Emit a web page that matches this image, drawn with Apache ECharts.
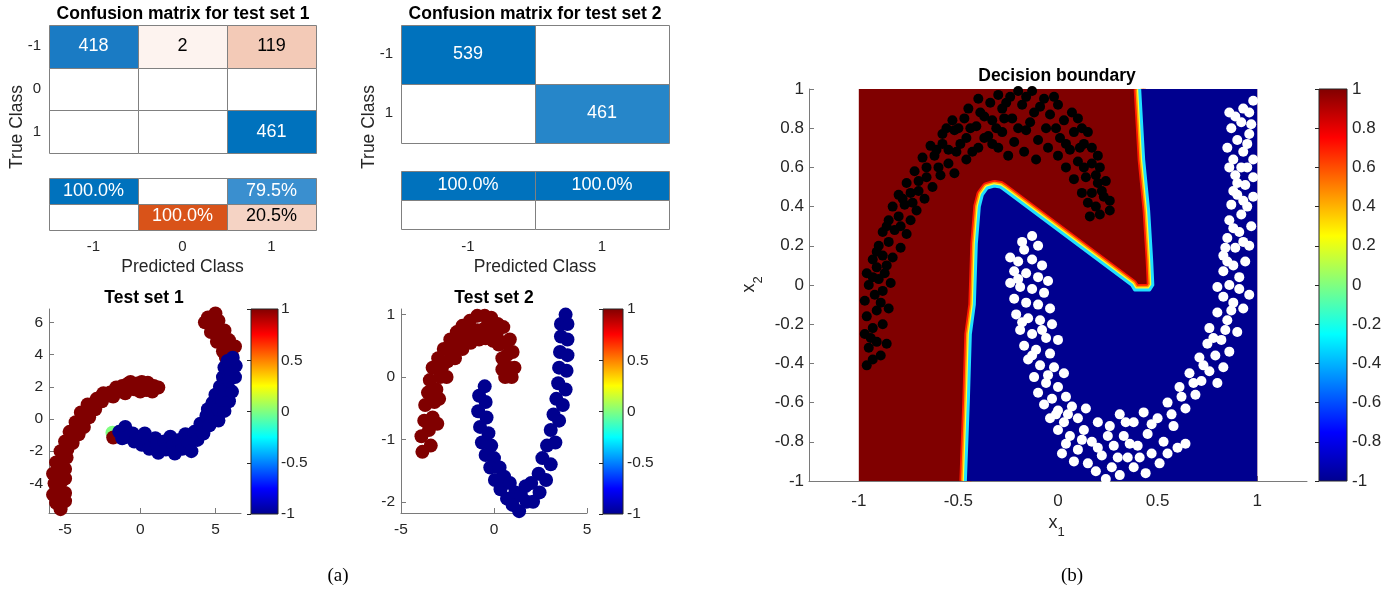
<!DOCTYPE html>
<html><head><meta charset="utf-8">
<script src="https://cdn.jsdelivr.net/npm/echarts@6/dist/echarts.min.js"></script>
<style>html,body{margin:0;padding:0;background:#fff}#c{width:1389px;height:590px}</style>
</head><body><div id="c"></div>
<script>
// ---------------- DATA ----------------
const cm1Classes = ['-1', '0', '1'];
const cm1Counts = [[418, 2, 119], [null, null, null], [null, null, 461]];
const cm1Precision = [100.0, null, 79.5];
const cm1FalseDisc = [null, 100.0, 20.5];

const cm2Classes = ['-1', '1'];
const cm2Counts = [[539, null], [null, 461]];
const cm2Precision = [100.0, 100.0];
const cm2FalseDisc = [null, null];

const test1Red = [[-5.3,-5.6],[-5.0,-5.1],[-5.6,-5.2],[-5.8,-4.7],[-5.3,-4.6],[-5.0,-4.6],[-5.7,-4.0],[-5.25,-3.9],[-5.0,-3.7],[-5.8,-3.4],[-5.4,-3.2],[-5.0,-3.1],[-5.6,-2.7],[-5.15,-2.5],[-4.9,-2.4],[-5.3,-2.0],[-4.85,-1.9],[-4.5,-1.5],[-5.0,-1.4],[-4.55,-1.2],[-4.1,-0.95],[-4.7,-0.8],[-4.2,-0.6],[-3.75,-0.5],[-4.3,-0.2],[-3.85,0.0],[-3.4,0.1],[-3.95,0.4],[-3.5,0.55],[-3.0,0.6],[-3.5,0.9],[-3.0,1.05],[-2.55,1.1],[-2.9,1.25],[-2.5,1.5],[-2.05,1.45],[-2.45,1.6],[-2.0,1.65],[-1.5,1.75],[-1.6,1.95],[-1.2,2.05],[-0.9,2.0],[-0.8,2.2],[-0.65,2.3],[-0.2,2.2],[-0.4,1.85],[0.1,2.3],[0.5,2.25],[0.4,1.8],[0.9,2.05],[1.2,1.95],[0.8,1.7],[0.0,1.7],[-1.0,1.6],[-1.8,1.4],[-1.8,-1.15],
  [4.3,6.0],[4.8,5.9],[5.2,6.1],[4.7,5.4],[5.2,5.3],[5.6,5.5],[5.1,4.8],[5.5,4.7],[5.9,4.9],[5.5,4.2],[5.95,4.3],[6.3,4.5],[5.7,3.8],[6.1,3.9],[4.5,6.3],[5.0,6.55],[4.9,6.2]];
const test1Mid = [[-1.85,-0.85,0.0]];
const test1Blue = [[-1.4,-0.8],[-1.0,-0.5],[-0.9,-1.1],[-0.5,-0.9],[-0.4,-1.4],[0.0,-1.1],[0.1,-1.6],[0.5,-1.3],[0.6,-1.85],[1.0,-1.2],[1.1,-1.65],[1.2,-2.1],[1.6,-1.4],[1.7,-1.9],[2.0,-1.1],[2.2,-1.6],[2.3,-2.15],[2.6,-1.3],[2.8,-1.85],[3.0,-0.95],[3.2,-1.45],[3.4,-2.0],[3.6,-0.8],[3.8,-1.3],[4.0,-0.3],[4.2,-0.9],[4.4,0.2],[4.6,-0.4],[4.5,0.6],[4.9,0.1],[5.2,-0.1],[4.8,1.0],[5.2,0.6],[5.6,0.5],[5.0,1.5],[5.45,1.2],[5.9,1.1],[5.3,2.0],[5.7,1.8],[6.1,1.7],[5.5,2.6],[5.9,2.4],[6.3,2.6],[5.6,3.2],[6.0,3.1],[6.35,3.3],[5.8,3.6],[6.15,3.8],[-1.2,-1.2],[0.3,-0.9]];

const test2Red = [[-3.85,-1.2],[-3.4,-1.1],[-3.9,-0.95],[-3.5,-0.85],[-3.75,-0.7],[-3.3,-0.65],[-3.7,-0.45],[-3.2,-0.4],[-3.55,-0.25],[-3.1,-0.2],[-3.45,-0.05],[-2.9,0.0],[-3.3,0.15],[-2.8,0.15],[-3.0,0.3],[-2.5,0.25],[-2.7,0.45],[-2.2,0.4],[-2.35,0.6],[-1.9,0.55],[-2.0,0.72],[-1.6,0.62],[-1.7,0.82],[-1.25,0.72],[-1.3,0.9],[-0.9,0.75],[-0.9,0.98],[-0.5,0.78],[-0.5,0.98],[-0.1,0.75],[-0.15,0.95],[0.2,0.85],[0.15,0.65],[0.5,0.8],[0.55,0.55],[0.85,0.6],[0.7,0.35],[1.0,0.4],[0.8,0.15],[1.1,0.15],[0.6,0.0],[0.95,0.0],
  [-3.05,-0.75],[-2.95,-0.35],[-2.55,0.0],[-2.1,0.3],[-1.7,0.45],[-1.25,0.55],[-0.8,0.6],[-0.45,0.62],[-0.05,0.58],[0.25,0.52],[0.45,0.3],[0.45,0.12]];
const test2Blue = [[-0.5,-0.15],[-0.8,-0.3],[-0.45,-0.4],[-0.85,-0.55],[-0.4,-0.65],[-0.75,-0.8],[-0.3,-0.9],[-0.65,-1.05],[-0.15,-1.1],[-0.45,-1.25],[0.0,-1.3],[-0.2,-1.45],[0.3,-1.45],[0.05,-1.65],[0.55,-1.6],[0.35,-1.8],[0.85,-1.7],[0.7,-1.95],[1.15,-1.85],[1.0,-2.05],[1.45,-1.9],[1.35,-2.15],[1.75,-2.0],[1.7,-1.75],[2.0,-1.7],[2.1,-2.0],[2.4,-1.55],[2.45,-1.85],[2.6,-1.3],[2.8,-1.65],[2.85,-1.1],[3.05,-1.4],[3.05,-0.85],[3.3,-1.05],[3.2,-0.6],[3.5,-0.7],[3.35,-0.35],[3.7,-0.45],[3.45,-0.1],[3.85,-0.2],[3.5,0.15],[3.9,0.1],[3.55,0.4],[3.95,0.35],[3.6,0.65],[3.95,0.6],[3.6,0.85],[3.95,0.85],[3.85,1.0]];

const decisionDomain = [-1, 1];
const decisionBoundary = [[-0.465,-1.0],[-0.45,-0.59],[-0.44,-0.25],[-0.42,-0.1],[-0.41,0.21],[-0.395,0.4],[-0.38,0.46],[-0.355,0.495],[-0.32,0.505],[-0.29,0.5],[-0.275,0.49],[0.37,0.0],[0.385,-0.025],[0.46,-0.025],[0.476,0.0],[0.47,0.13],[0.455,0.38],[0.43,0.64],[0.41,1.0]];
const decisionBlueCorners = [[1, 1], [1, -1]];

const class1Points = [[-0.96,-0.41],[-0.93,-0.38],[-0.89,-0.36],[-0.95,-0.32],[-0.91,-0.29],[-0.86,-0.3],[-0.97,-0.25],[-0.93,-0.22],[-0.88,-0.2],[-0.96,-0.16],[-0.91,-0.13],[-0.85,-0.12],[-0.97,-0.08],[-0.92,-0.05],[-0.88,-0.03],[-0.95,0.0],[-0.9,0.03],[-0.84,0.01],[-0.96,0.06],[-0.91,0.09],[-0.86,0.1],
[-0.93,0.13],[-0.88,0.15],[-0.83,0.14],[-0.9,0.2],[-0.85,0.22],[-0.79,0.19],[-0.88,0.27],[-0.82,0.28],[-0.76,0.26],[-0.85,0.33],[-0.8,0.35],[-0.74,0.33],[-0.83,0.4],[-0.77,0.41],[-0.71,0.38],
[-0.8,0.46],[-0.74,0.47],[-0.67,0.44],[-0.76,0.52],[-0.7,0.53],[-0.63,0.5],[-0.72,0.58],[-0.66,0.6],[-0.59,0.56],[-0.68,0.65],[-0.62,0.66],[-0.55,0.62],[-0.52,0.57],
[-0.64,0.71],[-0.58,0.72],[-0.51,0.68],[-0.46,0.64],[-0.58,0.77],[-0.52,0.79],[-0.46,0.75],[-0.4,0.7],[-0.53,0.84],[-0.47,0.85],[-0.41,0.81],[-0.35,0.76],[-0.3,0.7],[-0.45,0.9],[-0.39,0.88],[-0.33,0.84],[-0.28,0.78],[-0.4,0.95],[-0.34,0.93],[-0.28,0.9],
[-0.23,0.85],[-0.22,0.73],[-0.17,0.68],[-0.3,0.97],[-0.24,0.96],[-0.18,0.92],[-0.12,0.88],[-0.16,0.79],[-0.1,0.74],[-0.2,0.99],[-0.13,0.99],[-0.07,0.95],[-0.04,0.87],[-0.06,0.8],[-0.05,0.7],[-0.25,0.66],[-0.11,0.64],
[0.0,0.92],[0.03,0.84],[0.01,0.75],[0.0,0.66],[0.07,0.88],[0.08,0.78],[0.06,0.69],[0.04,0.6],[0.12,0.8],[0.13,0.72],[0.1,0.63],[0.08,0.54],[0.17,0.7],[0.17,0.62],[0.14,0.55],
[0.21,0.6],[0.2,0.52],[0.17,0.47],[0.12,0.47],[0.24,0.53],[0.23,0.45],[0.19,0.4],[0.26,0.43],[0.21,0.36],[0.16,0.35],[0.26,0.38],
[-0.94,-0.27],[-0.89,-0.09],[-0.93,0.04],[-0.87,0.06],[-0.91,0.17],[-0.86,0.3],[-0.79,0.3],[-0.78,0.44],[-0.73,0.42],[-0.7,0.48],[-0.66,0.55],[-0.6,0.6],[-0.61,0.69],[-0.55,0.69],[-0.49,0.72],[-0.43,0.68],[-0.5,0.8],[-0.44,0.8],[-0.37,0.86],[-0.31,0.8],[-0.26,0.93],[-0.2,0.8],[-0.14,0.83],[-0.09,0.91],[-0.02,0.96],[-0.01,0.8],[0.04,0.72],[0.1,0.85],[0.15,0.78],[0.11,0.7],[0.2,0.66],[0.19,0.56],[0.13,0.6],[0.22,0.48],[0.15,0.42],[-0.37,0.75],[-0.27,0.85],[-0.16,0.96],[-0.33,0.72],[-0.56,0.8]];

const class2Points = [[-0.13,0.25],[-0.1,0.2],[-0.17,0.18],[-0.24,0.14],[-0.2,0.12],[-0.13,0.13],[-0.08,0.1],[-0.22,0.07],[-0.16,0.06],[-0.1,0.04],[-0.05,0.02],[-0.24,0.01],[-0.19,-0.01],[-0.13,-0.02],[-0.07,-0.04],[-0.22,-0.07],[-0.16,-0.09],[-0.1,-0.1],[-0.04,-0.12],
[-0.21,-0.15],[-0.15,-0.17],[-0.09,-0.18],[-0.03,-0.2],[-0.19,-0.23],[-0.13,-0.25],[-0.06,-0.27],[0.0,-0.28],[-0.17,-0.31],[-0.11,-0.33],[-0.04,-0.35],[-0.15,-0.38],[-0.09,-0.41],[-0.02,-0.42],[0.03,-0.45],
[-0.12,-0.47],[-0.06,-0.5],[0.0,-0.52],[-0.1,-0.55],[-0.03,-0.58],[0.04,-0.57],[-0.07,-0.61],[0.0,-0.64],[0.07,-0.62],[-0.04,-0.68],[0.03,-0.7],[0.1,-0.68],[0.0,-0.74],
[0.06,-0.77],[0.13,-0.74],[0.04,-0.81],[0.1,-0.84],[0.17,-0.8],[0.2,-0.7],[0.14,-0.63],[0.08,-0.9],[0.15,-0.91],[0.22,-0.87],[0.19,-0.95],[0.24,-0.99],[0.27,-0.93],[0.28,-0.82],[0.26,-0.72],[0.31,-0.66],[0.33,-0.77],[0.35,-0.88],[0.31,-0.97],[0.38,-0.93],[0.4,-0.82],[0.38,-0.7],[0.43,-0.65],[0.45,-0.76],[0.47,-0.86],[0.44,-0.96],[0.51,-0.91],[0.53,-0.8],[0.5,-0.68],[0.55,-0.6],[0.58,-0.72],[0.6,-0.83],[0.64,-0.81],
[0.61,-0.52],[0.64,-0.63],[0.66,-0.45],[0.69,-0.56],[0.72,-0.49],[0.71,-0.37],[0.76,-0.44],[0.8,-0.5],[0.75,-0.3],[0.79,-0.36],[0.83,-0.42],[0.76,-0.22],[0.82,-0.28],[0.86,-0.34],[0.8,-0.14],[0.85,-0.18],[0.9,-0.24],[0.83,-0.06],[0.88,-0.09],[0.93,-0.12],[0.96,-0.05],
[0.8,-0.01],[0.86,0.0],[0.91,0.04],[0.83,0.07],[0.88,0.1],[0.94,0.12],[0.83,0.15],[0.89,0.19],[0.96,0.2],[0.85,0.24],[0.91,0.27],[0.97,0.3],[0.86,0.33],[0.92,0.36],[0.87,0.41],[0.93,0.43],[0.98,0.45],[0.88,0.48],[0.94,0.51],[0.98,0.55],[0.89,0.56],[0.95,0.6],[0.88,0.64],[0.93,0.68],[0.98,0.64],[0.85,0.7],[0.9,0.74],[0.96,0.77],[0.87,0.8],[0.92,0.83],[0.97,0.82],[0.86,0.88],[0.93,0.9],[0.98,0.94],
[-0.18,0.22],[-0.2,0.03],[-0.18,-0.19],[-0.08,-0.23],[-0.13,-0.36],[-0.05,-0.46],[-0.01,-0.66],[0.05,-0.66],[0.12,-0.79],[0.02,-0.86],[0.2,-0.83],[0.25,-0.77],[0.3,-0.88],[0.36,-0.81],[0.41,-0.88],[0.34,-0.7],[0.47,-0.71],[0.55,-0.86],[0.57,-0.66],[0.62,-0.57],[0.68,-0.5],[0.73,-0.41],[0.78,-0.27],[0.84,-0.23],[0.87,-0.13],[0.91,-0.02],[0.85,0.12],[0.93,0.22],[0.88,0.29],[0.95,0.4],[0.9,0.52],[0.92,0.6],[0.95,0.72],[0.89,0.86],[0.96,0.88],[0.84,0.19],[0.9,0.46],[0.86,0.6]];

const test1XTicks = [-5, 0, 5], test1YTicks = [-4, -2, 0, 2, 4, 6];
const test2XTicks = [-5, 0, 5], test2YTicks = [-2, -1, 0, 1];
const decisionXTicks = [-1, -0.5, 0, 0.5, 1];
const colorRange = [-1, 1];

// ---------------- STYLES ----------------
const FONT = '"Liberation Sans", Arial, Helvetica, sans-serif';
const TXT = '#262626';
const AX = '#7a7a7a';
const JET = ['#00008F','#0000FF','#0080FF','#00FFFF','#80FF80','#FFFF00','#FF8000','#FF0000','#800000'];
const cm1CountFill = [['#1a7bc4','#fdf3ef','#f3cab7'],['#ffffff','#ffffff','#ffffff'],['#ffffff','#ffffff','#0072bd']];
const cm1SumFill = [['#0072bd','#ffffff','#3a8fcf'],['#ffffff','#d95319','#f5d3c4']];
const cm2CountFill = [['#0072bd','#ffffff'],['#ffffff','#2686c9']];
const cm2SumFill = [['#0072bd','#0072bd'],['#ffffff','#ffffff']];

function textOn(fill) {
  const h = fill.replace('#', '');
  const r = parseInt(h.substr(0, 2), 16), g = parseInt(h.substr(2, 2), 16), b = parseInt(h.substr(4, 2), 16);
  return (0.299 * r + 0.587 * g + 0.114 * b) < 160 ? '#ffffff' : '#000000';
}

function cellSeries(axisIdx, rows, fills, fmt) {
  const data = [];
  rows.forEach((row, r) => row.forEach((v, c) => data.push([c, r])));
  return {
    type: 'custom', xAxisIndex: axisIdx, yAxisIndex: axisIdx, data: data, z: 2,
    renderItem: function (params, api) {
      const c = api.value(0), r = api.value(1);
      const p = api.coord([c, r]);
      const s = api.size([1, 1]);
      const v = rows[r][c];
      const fill = fills[r][c];
      return {
        type: 'group', children: [
          { type: 'rect', shape: { x: Math.round(p[0] - s[0] / 2) + 0.5, y: Math.round(p[1] - s[1] / 2) + 0.5, width: Math.round(s[0]), height: Math.round(s[1]) },
            style: { fill: fill, stroke: '#808080', lineWidth: 1 } },
          { type: 'text', x: p[0], y: p[1],
            style: { text: v == null ? '' : fmt(v), fill: textOn(fill), font: '18px ' + FONT,
              align: 'center', verticalAlign: 'middle', textAlign: 'center', textVerticalAlign: 'middle' } }
        ]
      };
    }
  };
}

function catAxis(grid, data, opts) {
  return Object.assign({
    type: 'category', gridIndex: grid, data: data,
    axisLine: { show: false }, axisTick: { show: false }, splitLine: { show: false },
    axisLabel: { show: false }
  }, opts || {});
}

function valAxis(grid, min, max, ticks, opts) {
  const a = {
    type: 'value', gridIndex: grid, min: min, max: max, splitLine: { show: false },
    axisLine: { show: true, onZero: false, lineStyle: { color: AX, width: 1 } },
    axisTick: { show: true, inside: true, length: 5, lineStyle: { color: AX } },
    axisLabel: { color: TXT, fontSize: 15.5, fontFamily: FONT, margin: 6 }
  };
  if (ticks) {
    a.axisTick.customValues = ticks;
    a.axisLabel.customValues = ticks;
  }
  return Object.assign(a, opts || {});
}

function colorbarAxes(grid, interval, fontSize, margin) {
  return {
    x: { type: 'value', gridIndex: grid, min: 0, max: 1, show: false },
    y: { type: 'value', gridIndex: grid, position: 'right', min: colorRange[0], max: colorRange[1], interval: interval, z: 5,
      splitLine: { show: false }, axisLine: { show: false },
      axisTick: { show: true, inside: true, length: 4, lineStyle: { color: TXT } },
      axisLabel: { color: TXT, fontSize: fontSize, fontFamily: FONT, margin: margin } }
  };
}

function colorbarSeries(axisIdx) {
  return {
    type: 'custom', xAxisIndex: axisIdx, yAxisIndex: axisIdx, data: [[0, 0]], z: 1, silent: true,
    renderItem: function (params, api) {
      const p0 = api.coord([0, colorRange[0]]), p1 = api.coord([1, colorRange[1]]);
      return { type: 'rect', shape: { x: p0[0], y: p1[1], width: p1[0] - p0[0], height: p0[1] - p1[1] },
        style: { fill: new echarts.graphic.LinearGradient(0, 1, 0, 0, JET.map((c, i) => ({ offset: i / (JET.length - 1), color: c }))),
          stroke: '#262626', lineWidth: 1 } };
    }
  };
}

// ---------------- BUILD ----------------
const grids = [
  { left: 49, top: 25, width: 267, height: 128 },
  { left: 49, top: 178, width: 267, height: 51 },
  { left: 401, top: 25, width: 268, height: 117 },
  { left: 401, top: 171, width: 268, height: 58 },
  { left: 49, top: 309, width: 192, height: 204 },
  { left: 251, top: 309, width: 27, height: 205 },
  { left: 401, top: 309, width: 186, height: 204 },
  { left: 603, top: 309, width: 20, height: 205 },
  { left: 809, top: 89, width: 498, height: 392 },
  { left: 1319, top: 89, width: 28, height: 392 }
].map(g => Object.assign(g, { outerBoundsMode: 'none', containLabel: false }));

const rowLabel = { show: true, color: TXT, fontSize: 15, fontFamily: FONT, margin: 8 };
const colLabel = { show: true, color: TXT, fontSize: 15, fontFamily: FONT, margin: 10 };
const nameStyle = { color: TXT, fontSize: 17.5, fontFamily: FONT };

const cb1 = colorbarAxes(5, 0.5, 15.5, 3);
const cb2 = colorbarAxes(7, 0.5, 15.5, 4);
const cb3 = colorbarAxes(9, 0.2, 17, 5);

const xAxes = [
  catAxis(0, cm1Classes),
  catAxis(1, cm1Classes, { axisLabel: colLabel, name: 'Predicted Class', nameLocation: 'middle', nameGap: 29, nameTextStyle: nameStyle }),
  catAxis(2, cm2Classes),
  catAxis(3, cm2Classes, { axisLabel: colLabel, name: 'Predicted Class', nameLocation: 'middle', nameGap: 29, nameTextStyle: nameStyle }),
  valAxis(4, -6.07, 6.7, test1XTicks, {}),
  cb1.x,
  valAxis(6, -5, 5, test2XTicks, {}),
  cb2.x,
  valAxis(8, -1.25, 1.25, decisionXTicks, {}),
  cb3.x
];
xAxes[4].axisLabel.margin = 9;
xAxes[6].axisLabel.margin = 9;
xAxes[8].axisLabel.margin = 12;
xAxes[8].axisLabel.fontSize = 17;

const yAxes = [
  catAxis(0, cm1Classes, { inverse: true, axisLabel: rowLabel }),
  catAxis(1, ['p', 'f'], { inverse: true }),
  catAxis(2, cm2Classes, { inverse: true, axisLabel: rowLabel }),
  catAxis(3, ['p', 'f'], { inverse: true }),
  valAxis(4, -5.84, 6.83, test1YTicks, {}),
  cb1.y,
  valAxis(6, -2.18, 1.09, test2YTicks, {}),
  cb2.y,
  valAxis(8, -1, 1, null, { interval: 0.2 }),
  cb3.y
];
yAxes[8].axisLabel.fontSize = 17;
yAxes[8].axisLabel.margin = 5;

const pctFmt = v => v.toFixed(1) + '%';
const cntFmt = v => String(v);

const series = [
  cellSeries(0, cm1Counts, cm1CountFill, cntFmt),
  cellSeries(1, [cm1Precision, cm1FalseDisc], cm1SumFill, pctFmt),
  cellSeries(2, cm2Counts, cm2CountFill, cntFmt),
  cellSeries(3, [cm2Precision, cm2FalseDisc], cm2SumFill, pctFmt),
  { type: 'scatter', xAxisIndex: 4, yAxisIndex: 4, symbolSize: 14, z: 2,
    data: test1Mid.map(p => [p[0], p[1], p[2]]).concat(test1Red.map(p => [p[0], p[1], 1]), test1Blue.map(p => [p[0], p[1], -1])),
    itemStyle: { opacity: 1 } },
  colorbarSeries(5),
  { type: 'scatter', xAxisIndex: 6, yAxisIndex: 6, symbolSize: 14, z: 2,
    data: test2Red.map(p => [p[0], p[1], 1]).concat(test2Blue.map(p => [p[0], p[1], -1])),
    itemStyle: { opacity: 1 } },
  colorbarSeries(7),
  { type: 'custom', xAxisIndex: 8, yAxisIndex: 8, data: [[0, 0]], z: 1, silent: true,
    renderItem: function (params, api) {
      const bl = api.coord([decisionDomain[0], decisionDomain[0]]);
      const tr = api.coord([decisionDomain[1], decisionDomain[1]]);
      const line = decisionBoundary.map(p => api.coord(p));
      const poly = decisionBoundary.concat(decisionBlueCorners).map(p => api.coord(p));
      const pl = (color, w) => ({ type: 'polyline', shape: { points: line }, style: { stroke: color, lineWidth: w, fill: null, lineJoin: 'round', lineCap: 'butt' } });
      return { type: 'group', children: [
        { type: 'rect', shape: { x: bl[0], y: tr[1], width: tr[0] - bl[0], height: bl[1] - tr[1] }, style: { fill: '#800000' } },
        pl('#ff1a00', 12),
        pl('#ff9a00', 8.5),
        pl('#ffff30', 5.5),
        { type: 'polygon', shape: { points: poly }, style: { fill: '#00008f' } },
        pl('#20e0ff', 3)
      ] };
    } },
  { type: 'scatter', xAxisIndex: 8, yAxisIndex: 8, symbolSize: 10, z: 3, data: class1Points, itemStyle: { color: '#000000', opacity: 1 } },
  { type: 'scatter', xAxisIndex: 8, yAxisIndex: 8, symbolSize: 10, z: 3, data: class2Points, itemStyle: { color: '#ffffff', opacity: 1 } },
  colorbarSeries(9)
];

function txt(x, y, text, font, opts) {
  return Object.assign({ type: 'text', x: x, y: y, silent: true,
    style: { text: text, font: font, fill: opts && opts.fill || TXT, align: 'center', verticalAlign: 'middle', textAlign: 'center', textVerticalAlign: 'middle' } },
    opts && opts.rotation ? { rotation: opts.rotation } : {});
}
const BOLD = 'bold 17.5px ' + FONT;
const graphics = [
  txt(183, 14, 'Confusion matrix for test set 1', BOLD, { fill: '#000' }),
  txt(535, 14, 'Confusion matrix for test set 2', BOLD, { fill: '#000' }),
  txt(17, 127, 'True Class', '17.5px ' + FONT, { rotation: Math.PI / 2 }),
  txt(369, 127, 'True Class', '17.5px ' + FONT, { rotation: Math.PI / 2 }),
  txt(144, 298, 'Test set 1', BOLD, { fill: '#000' }),
  txt(494, 298, 'Test set 2', BOLD, { fill: '#000' }),
  txt(1057, 76, 'Decision boundary', BOLD, { fill: '#000' }),
  txt(1053, 523, 'x', '18px ' + FONT),
  txt(1061, 532, '1', '13px ' + FONT),
  txt(749, 288, 'x', '18px ' + FONT, { rotation: Math.PI / 2 }),
  txt(758, 280, '2', '13px ' + FONT, { rotation: Math.PI / 2 }),
  txt(338, 576, '(a)', '19px "Liberation Serif", "DejaVu Serif", serif', { fill: '#000' }),
  txt(1072, 576, '(b)', '19px "Liberation Serif", "DejaVu Serif", serif', { fill: '#000' })
];

const chart = echarts.init(document.getElementById('c'), null, { renderer: 'canvas' });
chart.setOption({
  animation: false,
  backgroundColor: '#ffffff',
  textStyle: { fontFamily: FONT },
  grid: grids,
  xAxis: xAxes,
  yAxis: yAxes,
  visualMap: [{ type: 'continuous', show: false, min: colorRange[0], max: colorRange[1], dimension: 2, seriesIndex: [4, 6], inRange: { color: JET } }],
  series: series,
  graphic: graphics
});
</script></body></html>
